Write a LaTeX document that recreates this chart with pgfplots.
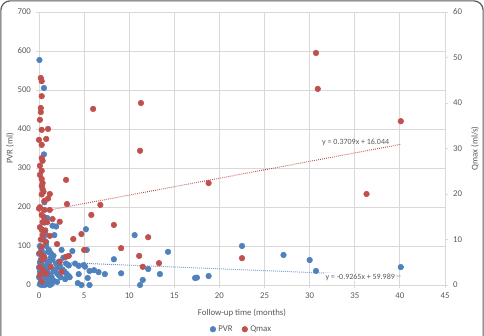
\documentclass[border=0pt]{standalone}
\usepackage{pgfplots}
\pgfplotsset{compat=1.18}
\usepackage{fontspec}
\setmainfont{Carlito}
\definecolor{pvr}{HTML}{4F81BD}
\definecolor{qmax}{HTML}{C0504D}
\definecolor{gridc}{HTML}{D9D9D9}
\definecolor{txt}{HTML}{595959}
\begin{document}
\begin{tikzpicture}
\path[use as bounding box] (-29.25pt,-37.5pt) rectangle (333.75pt,213.75pt);
\draw[color=black!65, line width=0.9pt, rounded corners=7pt] (-28.6pt,-60pt) -- (-28.6pt,213.1pt) -- (333.1pt,213.1pt) -- (333.1pt,-60pt);
\pgfplotsset{
  base/.style={
    scale only axis, width=304.5pt, height=204.75pt,
    xmin=0, xmax=45,
    tick label style={font=\fontsize{6.6}{8}\selectfont, color=txt},
    label style={font=\fontsize{6.6}{8}\selectfont, color=txt},
    /pgf/number format/assume math mode=true,
    tick style={color=gridc, line width=0.6pt},
    major tick length=2.5pt,
    tick align=outside,
  }
}
\begin{axis}[base,
  ymin=0, ymax=700, ytick={0,100,...,700},
  xtick={0,5,...,45},
  axis line style={color=gridc, line width=0.6pt},
  grid=major, major grid style={color=gridc, line width=0.6pt},
  xtick pos=bottom, ytick pos=left,
  xlabel={Follow-up time (months)},
  ylabel={PVR (ml)},
  xlabel style={at={(axis description cs:0.5,-0.1026)}, anchor=center},
  ylabel style={at={(axis description cs:-0.0714,0.5)}, anchor=center},
  legend style={at={(axis description cs:0.5,-0.162)}, anchor=center, draw=none, fill=none,
     font=\fontsize{6.6}{7.5}\selectfont, text=txt, legend columns=2, inner sep=1pt,
     /tikz/every even column/.append style={column sep=5pt}},
  legend cell align=left,
]
\addplot[only marks, mark=*, mark size=2.1pt, color=pvr, mark options={fill=pvr, draw=pvr}] coordinates {
(0.05,577)(0.55,505)(0.55,335)(0.6,212)(0.9,172)(1.5,152)(1.7,128)(1.9,150)(5.2,143)(10.6,128)
(0.1,100)(0.2,95)(0.3,88)(0.4,80)(0.5,75)(0.6,70)(0.2,65)(0.1,58)(0.3,52)(0.5,48)(0.7,45)(0.9,40)
(0.1,35)(0.3,30)(0.5,25)(0.7,20)(0.9,15)(0.2,10)(0.4,5)(0.6,0)(0.8,2)(1.0,5)(1.2,0)(1.4,3)
(0.0,20)(0.0,45)(0.0,80)(0.1,2)(0.3,0)(0.9,60)(1.1,55)(1.3,70)(1.5,65)(1.0,30)(1.2,25)(1.4,20)
(1.6,35)(1.8,40)(2.0,30)(2.2,25)(2.4,20)(1.1,90)(1.3,82)(1.6,75)(1.9,55)(2.1,45)(2.3,50)(2.6,40)
(2.8,35)(3.0,30)(3.2,25)(3.4,20)(2.5,90)(2.7,70)(3.0,55)(3.3,50)(2.9,15)(0.8,110)(0.5,120)(0.7,130)
(0.4,140)(0.6,160)(0.8,100)(1.0,85)(1.7,10)(2.0,8)(1.5,12)(2.2,60)(0.2,45)(0.4,38)(0.6,32)(0.8,28)
(3.7,87)(4.0,55)(4.4,49)(4.97,51)(5.1,47)(5.6,36)(6.1,38)(6.6,33)(7.3,28)(9.1,30)(12.1,41)(13.4,28)
(4.4,28)(5.4,18)(4.3,5)(4.7,0)(5.6,0)(11.5,13)(11.2,0)(3.3,21)(5.3,90)(8.3,66)(14.3,85)
(17.3,18)(17.5,19)(18.8,23)(22.5,100)(27.1,77)(30.0,64)(30.7,36)(40.1,46)
};
\addlegendentry{PVR}
\addlegendimage{only marks, mark=*, mark size=2.1pt, color=qmax, mark options={fill=qmax, draw=qmax}}
\addlegendentry{Qmax}
\addplot[forget plot, color=pvr, line width=0.75pt, dash pattern=on 0.6pt off 0.9pt] coordinates {(0,59.989)(40.1,22.837)};
\node[font=\fontsize{6}{7}\selectfont, text=txt, fill=white, inner sep=0.5pt] at (axis cs:35.6,20.5) {y = -0.9265x + 59.989};
\end{axis}
\begin{axis}[base,
  ymin=0, ymax=60, ytick={0,10,...,60},
  axis x line=none, axis y line*=right,
  axis line style={color=gridc, line width=0.6pt},
  ylabel={Qmax (ml/s)},
  ylabel style={at={(axis description cs:1.074,0.5)}, anchor=center},
]
\addplot[only marks, mark=*, mark size=2.1pt, color=qmax, mark options={fill=qmax, draw=qmax}] coordinates {
(30.7,51.0)(30.9,43.1)(18.8,22.4)(40.1,36.0)(36.3,20.0)(6.0,38.7)(11.3,40.0)(11.2,29.5)(22.5,5.9)
(6.8,17.6)(5.8,15.4)(8.3,13.2)(12.1,10.5)(9.1,8.1)(11.1,6.4)(11.5,4.0)(13.3,4.8)(3.0,23.1)(3.1,17.8)
(2.3,13.9)(4.7,11.2)(3.8,10.1)(2.0,9.0)(5.0,7.7)(3.3,6.4)(3.0,6.2)(2.5,2.9)(2.3,5.1)(1.2,10.8)
(1.2,16.5)(1.2,20.0)
(0.2,45.5)(0.3,44.8)(0.3,41.5)(0.2,38.9)(0.2,38.0)(0.3,34.1)(1.0,34.3)(0.1,36.3)(0.0,31.9)(0.8,32.1)
(0.3,30.8)(0.3,27.9)(0.4,27.3)(0.1,26.2)(0.3,25.1)(0.1,24.2)(0.3,23.3)(0.4,22.4)(0.3,21.8)(0.4,21.1)
(0.3,19.9)(0.1,17.1)(0.0,16.8)(0.6,16.5)(0.3,15.4)(0.4,13.8)(0.9,13.8)(0.1,12.7)(0.3,12.2)(0.4,11.0)
(0.3,8.4)(0.1,7.0)(0.4,6.4)(0.3,5.5)(0.1,4.0)(0.4,3.3)(0.1,2.2)(0.3,0.8)(0.6,18.5)(0.5,15.0)
(0.7,9.5)(0.2,10.0)(0.5,20.5)(0.7,12.0)(1.5,14.5)(1.0,19.0)(0.8,2.5)(0.6,6.0)(1.3,4.0)
};
\addplot[color=qmax, line width=0.75pt, dash pattern=on 0.6pt off 0.9pt] coordinates {(0,16.044)(40.1,30.917)};
\node[font=\fontsize{6}{7}\selectfont, text=txt, inner sep=0.5pt] at (axis cs:35.1,31.4) {y = 0.3709x + 16.044};
\end{axis}
\end{tikzpicture}
\end{document}
